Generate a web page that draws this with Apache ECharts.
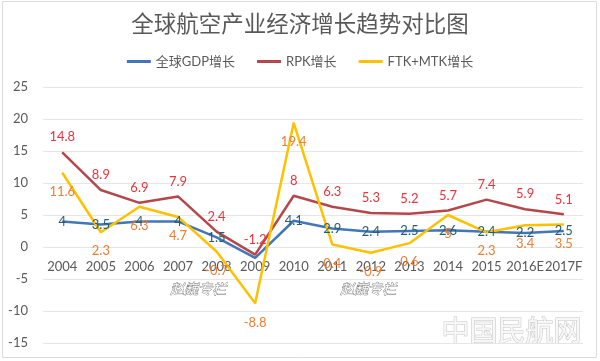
<!DOCTYPE html>
<html>
<head>
<meta charset="utf-8">
<script src="https://cdn.jsdelivr.net/npm/echarts@6/dist/echarts.min.js"></script>
<style>
html,body{margin:0;padding:0;background:#fff;}
#chart{width:600px;height:361px;}
</style>
</head>
<body>
<div id="chart"></div>
<script>
var categories = ['2004','2005','2006','2007','2008','2009','2010','2011','2012','2013','2014','2015','2016E','2017F'];
var gdpValues = [4, 3.5, 4, 4, 1.5, -1.7, 4.1, 2.9, 2.4, 2.5, 2.6, 2.4, 2.2, 2.5];
var rpkValues = [14.8, 8.9, 6.9, 7.9, 2.4, -1.2, 8, 6.3, 5.3, 5.2, 5.7, 7.4, 5.9, 5.1];
var ftkValues = [11.6, 2.3, 6.3, 4.7, -0.7, -8.8, 19.4, 0.4, -0.9, 0.6, 5, 2.3, 3.4, 3.5];
var seriesNames = ['全球GDP增长', 'RPK增长', 'FTK+MTK增长'];
var yMin = -15, yMax = 25, yStep = 5;

var FONT = 'Lato, "Noto Sans CJK SC", sans-serif';
var GRID_TOP = 87, GRID_BOTTOM = 18, H = 361;
var gridH = H - GRID_TOP - GRID_BOTTOM;
var zeroOffset = -gridH * (0 - yMin) / (yMax - yMin);

var chart = echarts.init(document.getElementById('chart'), null, {renderer: 'canvas'});

function lineSeries(name, data, color, label) {
  return {
    name: name,
    type: 'line',
    data: data,
    symbol: 'circle',
    symbolSize: 1,
    showAllSymbol: true,
    itemStyle: {color: color},
    lineStyle: {color: color, width: 2.5},
    label: Object.assign({show: true, fontFamily: FONT, fontSize: 13}, label),
    emphasis: {disabled: true},
    animation: false
  };
}

var option = {
  animation: false,
  backgroundColor: '#ffffff',
  title: {
    text: '全球航空产业经济增长趋势对比图',
    left: 'center',
    top: 7,
    textStyle: {fontFamily: '"Noto Sans CJK SC", sans-serif', fontSize: 22.5, fontWeight: 'normal', color: '#595959'}
  },
  legend: {
    top: 50,
    left: 'center',
    icon: 'rect',
    itemWidth: 24,
    itemHeight: 3,
    itemGap: 22,
    data: seriesNames,
    textStyle: {fontFamily: FONT, fontSize: 13, color: '#595959'}
  },
  grid: {left: 43, right: 17, top: GRID_TOP, bottom: GRID_BOTTOM, containLabel: false},
  xAxis: {
    type: 'category',
    data: categories,
    boundaryGap: true,
    offset: zeroOffset,
    axisLine: {show: false, onZero: false},
    axisTick: {show: false},
    axisLabel: {fontFamily: FONT, fontSize: 13, color: '#595959', margin: 13, interval: 0}
  },
  yAxis: {
    type: 'value',
    min: yMin,
    max: yMax,
    interval: yStep,
    axisLine: {show: false},
    axisTick: {show: false},
    splitLine: {lineStyle: {color: '#e6e6e6', width: 1}},
    axisLabel: {fontFamily: FONT, fontSize: 13, color: '#595959', margin: 15}
  },
  series: [
    lineSeries(seriesNames[0], gdpValues.map(function(v, i){
      return i === 5 ? {value: v, label: {show: false}} : v;
    }), '#4276B8', {position: 'inside', color: '#255E6E'}),
    lineSeries(seriesNames[1], rpkValues, '#B5474B', {position: 'top', distance: 8, color: '#E8343C'}),
    lineSeries(seriesNames[2], ftkValues, '#FFC000', {position: 'bottom', distance: 12, color: '#ED7D31'})
  ],
  graphic: [
    {type: 'rect', silent: true, z: -10, shape: {x: 2.5, y: 1.5, width: 594, height: 356}, style: {fill: 'none', stroke: '#dcdcdc', lineWidth: 1}},
    {type: 'text', silent: true, left: 170, top: 281, style: {text: '赵巍专栏', font: 'italic 14px "Noto Sans CJK SC"', fill: '#ffffff', stroke: '#5e5e5e', lineWidth: 0.7}},
    {type: 'text', silent: true, left: 340, top: 281, style: {text: '赵巍专栏', font: 'italic 14px "Noto Sans CJK SC"', fill: '#ffffff', stroke: '#5e5e5e', lineWidth: 0.7}},
    {type: 'text', silent: true, left: 441, top: 316, style: {text: '中国民航网', font: '28px "Noto Sans CJK SC"', fill: '#f7f7f7', stroke: '#c4c4c4', lineWidth: 1}}
  ]
};
chart.setOption(option);
</script>
</body>
</html>
